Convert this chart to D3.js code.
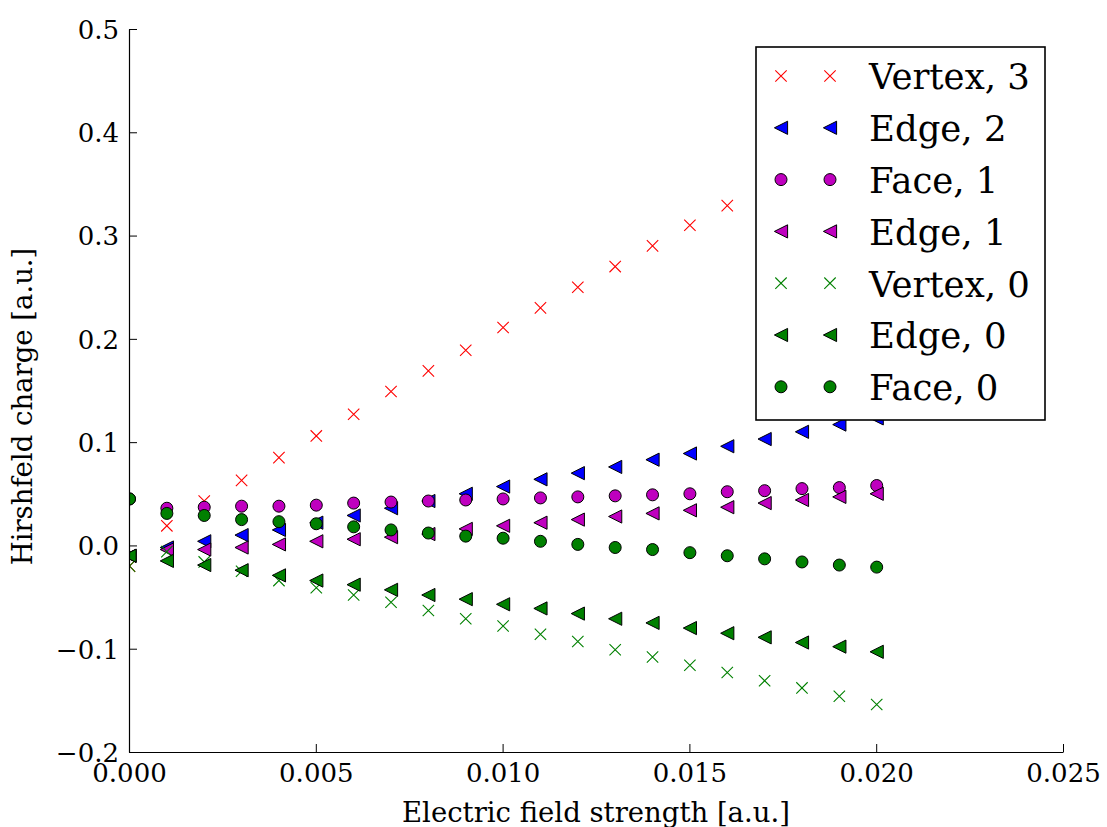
<!DOCTYPE html>
<html>
<head>
<meta charset="utf-8">
<script src="https://cdn.jsdelivr.net/npm/d3@7"></script>
<style>
  body { margin: 0; background: #fff; }
  text { font-family: "DejaVu Serif", serif; fill: #000; }
</style>
</head>
<body>
<div id="chart"></div>
<script>
// field strengths (x) shared by every series
var fieldStrength = [0, 0.001, 0.002, 0.003, 0.004, 0.005, 0.006, 0.007, 0.008, 0.009, 0.010,
  0.011, 0.012, 0.013, 0.014, 0.015, 0.016, 0.017, 0.018, 0.019, 0.020];

// Hirshfeld charges
var vertex3 = [-0.020, 0.019, 0.043, 0.063, 0.085, 0.106, 0.127, 0.149, 0.169, 0.189, 0.211,
  0.230, 0.250, 0.270, 0.290, 0.310, 0.329, 0.349, 0.369, 0.389, 0.409];
var edge2 = [-0.010, -0.002, 0.004, 0.010, 0.015, 0.022, 0.029, 0.036, 0.043, 0.050, 0.057,
  0.064, 0.070, 0.076, 0.083, 0.089, 0.096, 0.103, 0.110, 0.117, 0.123];
var face1 = [0.045, 0.036, 0.037, 0.038, 0.038, 0.039, 0.041, 0.042, 0.043, 0.044, 0.045,
  0.046, 0.047, 0.048, 0.049, 0.050, 0.052, 0.053, 0.055, 0.056, 0.058];
var edge1 = [-0.010, -0.004, -0.004, -0.002, 0.001, 0.004, 0.006, 0.008, 0.011, 0.016, 0.019,
  0.022, 0.025, 0.028, 0.031, 0.034, 0.037, 0.041, 0.044, 0.047, 0.050];
var vertex0 = [-0.020, -0.006, -0.016, -0.025, -0.034, -0.041, -0.048, -0.055, -0.063, -0.071, -0.078,
  -0.086, -0.093, -0.101, -0.108, -0.116, -0.123, -0.131, -0.138, -0.146, -0.154];
var edge0 = [-0.010, -0.015, -0.019, -0.024, -0.029, -0.034, -0.038, -0.043, -0.048, -0.052, -0.057,
  -0.061, -0.066, -0.071, -0.075, -0.080, -0.085, -0.089, -0.094, -0.098, -0.103];
var face0 = [0.045, 0.031, 0.029, 0.025, 0.023, 0.021, 0.018, 0.015, 0.012, 0.009, 0.007,
  0.004, 0.001, -0.002, -0.004, -0.007, -0.010, -0.013, -0.016, -0.019, -0.021];

var xTicks = [0, 0.005, 0.010, 0.015, 0.020, 0.025];
var yTicks = [-0.2, -0.1, 0.0, 0.1, 0.2, 0.3, 0.4, 0.5];

// series in plotting order (legend order)
var series = [
  {name: "Vertex, 3", values: vertex3, marker: "x", color: "#ff0000"},
  {name: "Edge, 2", values: edge2, marker: "tri", color: "#0000ff"},
  {name: "Face, 1", values: face1, marker: "circle", color: "#bf00bf"},
  {name: "Edge, 1", values: edge1, marker: "tri", color: "#bf00bf"},
  {name: "Vertex, 0", values: vertex0, marker: "x", color: "#008000"},
  {name: "Edge, 0", values: edge0, marker: "tri", color: "#008000"},
  {name: "Face, 0", values: face0, marker: "circle", color: "#008000"}
];

var svgWidth = 1107;
var svgHeight = 827;

var margin = {
  top: 29,
  right: 44,
  bottom: 75,
  left: 129
};

var width = svgWidth - margin.left - margin.right;
var height = svgHeight - margin.top - margin.bottom;

var svg = d3.select("#chart")
  .append("svg")
  .attr("width", svgWidth)
  .attr("height", svgHeight);

var chartGroup = svg.append("g")
  .attr("transform", `translate(${margin.left}, ${margin.top})`);

var xScale = d3.scaleLinear().domain([0, 0.025]).range([0, width]);
var yScale = d3.scaleLinear().domain([-0.2, 0.5]).range([height, 0]);

chartGroup.append("clipPath")
  .attr("id", "plotClip")
  .append("rect")
  .attr("x", 0.5)
  .attr("y", 0)
  .attr("width", width)
  .attr("height", height + 0.5);

// marker drawing
function drawMarker(sel, marker, color) {
  if (marker === "x") {
    var r = 5.7;
    sel.append("path")
      .attr("d", `M${-r},${-r}L${r},${r}M${-r},${r}L${r},${-r}`)
      .attr("stroke", color)
      .attr("stroke-width", 1.1)
      .attr("fill", "none");
  } else if (marker === "tri") {
    var t = 6.6;
    sel.append("path")
      .attr("d", `M${-t},0L${t},${-t}L${t},${t}Z`)
      .attr("fill", color)
      .attr("stroke", "#000")
      .attr("stroke-width", 1);
  } else {
    sel.append("circle")
      .attr("r", 6)
      .attr("fill", color)
      .attr("stroke", "#000")
      .attr("stroke-width", 1);
  }
}

var pointsGroup = chartGroup.append("g")
  .attr("clip-path", "url(#plotClip)");

series.forEach(function(s) {
  var g = pointsGroup.append("g");
  s.values.forEach(function(v, i) {
    var m = g.append("g")
      .attr("transform", `translate(${xScale(fieldStrength[i]) + 0.5}, ${yScale(v)})`);
    drawMarker(m, s.marker, s.color);
  });
});

// axes - ticks point inward, only left and bottom spines
var bottomAxis = d3.axisBottom(xScale)
  .tickValues(xTicks)
  .tickFormat(d3.format(".3f"))
  .tickSizeInner(-8)
  .tickSizeOuter(0)
  .tickPadding(12);

var leftAxis = d3.axisLeft(yScale)
  .tickValues(yTicks)
  .tickFormat(d => d3.format(".1f")(d).replace("-", "\u2212"))
  .tickSizeInner(-8)
  .tickSizeOuter(0)
  .tickPadding(10);

var xAxis = chartGroup.append("g")
  .attr("transform", `translate(0, ${height})`)
  .call(bottomAxis);

var yAxis = chartGroup.append("g")
  .call(leftAxis);

[xAxis, yAxis].forEach(function(ax) {
  ax.selectAll("text")
    .style("font-family", "DejaVu Serif")
    .style("font-size", "26px")
    .attr("fill", "#000");
  ax.selectAll("line").attr("stroke", "#000");
  ax.select(".domain").attr("stroke", "#000").attr("stroke-width", 1.2);
});
yAxis.selectAll("text").attr("dy", "0.36em");

// axis labels
chartGroup.append("text")
  .attr("x", width / 2)
  .attr("y", height + 70)
  .attr("text-anchor", "middle")
  .style("font-size", "27.5px")
  .text("Electric field strength [a.u.]");

chartGroup.append("text")
  .attr("transform", "rotate(-90)")
  .attr("x", -height / 2 - 16)
  .attr("y", -97)
  .attr("text-anchor", "middle")
  .style("font-size", "27.5px")
  .text("Hirshfeld charge [a.u.]");

// legend
var legendW = 289;
var legendH = 373;
var legend = chartGroup.append("g")
  .attr("transform", `translate(${width - 18 - legendW}, 18)`);

legend.append("rect")
  .attr("width", legendW)
  .attr("height", legendH)
  .attr("fill", "#fff")
  .attr("stroke", "#000")
  .attr("stroke-width", 1.6);

series.forEach(function(s, i) {
  var rowY = 29 + i * 51.8;
  [25, 74].forEach(function(mx) {
    var m = legend.append("g").attr("transform", `translate(${mx}, ${rowY})`);
    drawMarker(m, s.marker, s.color);
  });
  legend.append("text")
    .attr("x", 113)
    .attr("y", rowY)
    .attr("dy", "0.38em")
    .style("font-size", "35.5px")
    .text(s.name);
});
</script>
</body>
</html>
